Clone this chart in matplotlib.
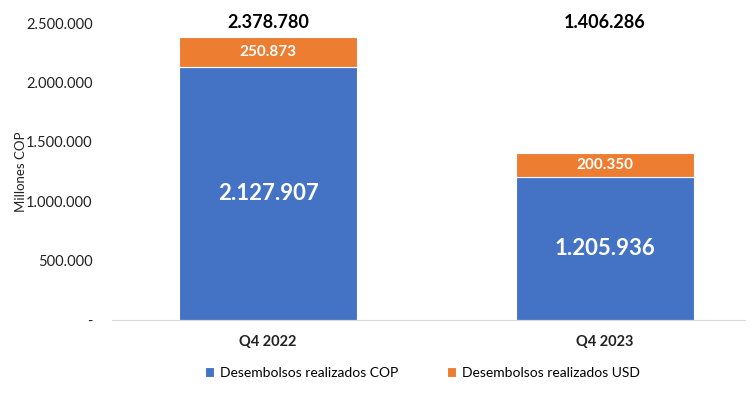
import matplotlib
matplotlib.use("Agg")
import matplotlib.pyplot as plt
from matplotlib.ticker import FuncFormatter

plt.rcParams["font.family"] = ["Lato", "DejaVu Sans"]

# data
periods = ["Q4 2022", "Q4 2023"]
cop = [2127907, 1205936]
usd = [250873, 200350]
totals = [2378780, 1406286]

BLUE = "#4472C4"
ORANGE = "#ED7D31"


def fmt(v):
    return f"{v:,.0f}".replace(",", ".")


fig = plt.figure(figsize=(7.54, 4.04), dpi=100)
ax = fig.add_axes([0.1485, 0.208, 0.8395, 0.735])

x = range(len(periods))
w = 0.53
ax.bar(x, cop, w, color=BLUE, edgecolor="white", linewidth=0.8,
       label="Desembolsos realizados COP")
ax.bar(x, usd, w, bottom=cop, color=ORANGE, edgecolor="white", linewidth=0.8,
       label="Desembolsos realizados USD")

for i in x:
    ax.text(i, cop[i] / 2, fmt(cop[i]), ha="center", va="center",
            color="white", fontsize=16, fontweight="bold")
    ax.text(i, cop[i] + usd[i] / 2, fmt(usd[i]), ha="center", va="center",
            color="white", fontsize=11, fontweight="bold")
    ax.text(i, 2505000, fmt(totals[i]), ha="center", va="center",
            color="black", fontsize=13, fontweight="bold", clip_on=False)

ax.set_xlim(-0.463, 1.415)
ax.set_ylim(0, 2500000)
ax.set_yticks([0, 500000, 1000000, 1500000, 2000000, 2500000])
ax.yaxis.set_major_formatter(FuncFormatter(lambda v, p: "-" if v == 0 else fmt(v)))
ax.set_xticks(list(x))
ax.set_xticklabels(periods, fontsize=10.5, fontweight="bold")
ax.tick_params(axis="both", length=0, labelsize=10.5, colors="#222222")
ax.tick_params(axis="x", pad=11)
ax.tick_params(axis="y", pad=14)

for s in ["top", "right", "left"]:
    ax.spines[s].set_visible(False)
ax.spines["bottom"].set_color("#d9d9d9")

ax.set_ylabel("Millones COP", fontsize=9.5, color="#222222")
ax.yaxis.set_label_coords(-0.135, 0.5)

fig.legend(loc="center", bbox_to_anchor=(0.56, 0.077), ncol=2, frameon=False,
           fontsize=10, handlelength=0.7, handleheight=0.7, columnspacing=3.5,
           handletextpad=0.4)

fig.savefig("out.png", dpi=100, facecolor="white")
